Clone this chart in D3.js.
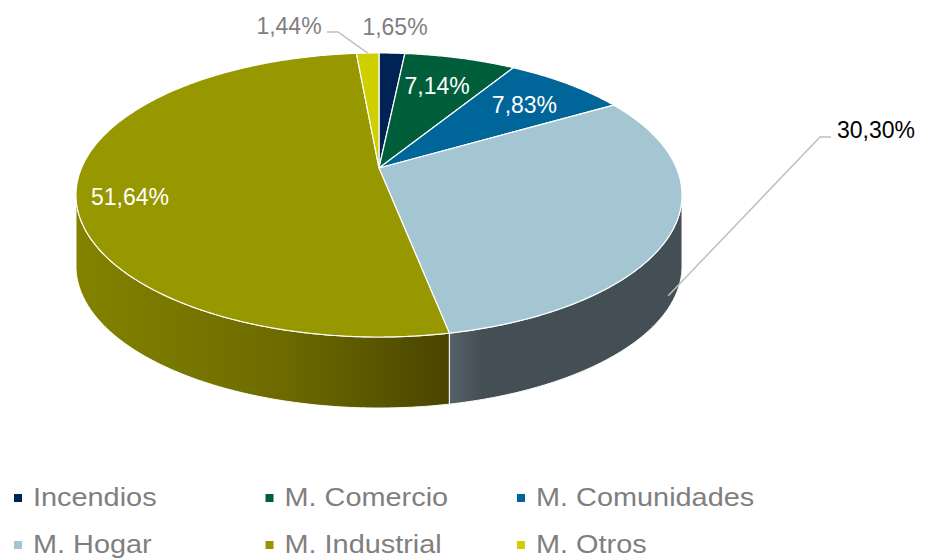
<!DOCTYPE html>
<html>

<head>
    <meta charset="utf-8">
    <title></title>
    <script src="https://d3js.org/d3.v7.min.js"></script>
    <style>
        html,
        body {
            margin: 0;
            padding: 0;
            background: white;
        }
    </style>
</head>

<body>

    <div id="chart"></div>

    <script>
        // Data
        const categories = ["Incendios", "M. Comercio", "M. Comunidades", "M. Hogar", "M. Industrial", "M. Otros"];
        const values = [1.65, 7.14, 7.83, 30.30, 51.64, 1.44];
        const valueLabels = ["1,65%", "7,14%", "7,83%", "30,30%", "51,64%", "1,44%"];
        const colors = ["#002255", "#005e3b", "#006699", "#a4c6d3", "#979700", "#d0d000"];

        const width = 926;
        const height = 559;

        // 3D pie geometry (perspective tilt)
        const cx = 379, cy = 168;     // projected pie centre
        const A = 297.5, B = 136.9;   // horizontal / vertical scale
        const k = 0.19;               // perspective strength
        const depth = 71;             // slab thickness

        // angle (clockwise from back) + radius fraction -> screen point
        const project = (theta, r = 1, dz = 0) => {
            const X = r * Math.sin(theta);
            const Z = r * Math.cos(theta);
            const w = 1 + k * Z;
            return [cx + A * X / w, cy - B * Z / w + dz];
        };

        const svg = d3.select("#chart")
            .append("svg")
            .attr("width", width)
            .attr("height", height);

        svg.append("rect")
            .attr("width", width)
            .attr("height", height)
            .attr("fill", "white");

        const defs = svg.append("defs");

        // side gradients
        const gInd = defs.append("linearGradient")
            .attr("id", "sideInd")
            .attr("gradientUnits", "userSpaceOnUse")
            .attr("x1", 76).attr("x2", 447).attr("y1", 0).attr("y2", 0);
        gInd.append("stop").attr("offset", "0%").attr("stop-color", "#838300");
        gInd.append("stop").attr("offset", "55%").attr("stop-color", "#6d6b00");
        gInd.append("stop").attr("offset", "100%").attr("stop-color", "#4a4500");

        const gHog = defs.append("linearGradient")
            .attr("id", "sideHog")
            .attr("gradientUnits", "userSpaceOnUse")
            .attr("x1", 447).attr("x2", 682).attr("y1", 0).attr("y2", 0);
        gHog.append("stop").attr("offset", "0%").attr("stop-color", "#56636b");
        gHog.append("stop").attr("offset", "15%").attr("stop-color", "#444e55");
        gHog.append("stop").attr("offset", "100%").attr("stop-color", "#444e55");

        const sideFill = { 3: "url(#sideHog)", 4: "url(#sideInd)" };

        const pie = d3.pie().sort(null).startAngle(0).endAngle(2 * Math.PI);
        const arcs = pie(values);

        const line = d3.line();
        const step = Math.PI / 360;

        const arcPoints = (a0, a1, dz = 0) => {
            const pts = [];
            const n = Math.max(2, Math.ceil((a1 - a0) / step));
            for (let i = 0; i <= n; i++) {
                pts.push(project(a0 + (a1 - a0) * i / n, 1, dz));
            }
            return pts;
        };

        // front visible wall: between silhouette angles
        const th1 = Math.acos(-k);
        const th2 = 2 * Math.PI - th1;

        const sides = svg.append("g");
        arcs.forEach((d, i) => {
            const s = Math.max(d.startAngle, th1);
            const e = Math.min(d.endAngle, th2);
            if (e <= s) return;
            const top = arcPoints(s, e);
            const bottom = arcPoints(s, e, depth).reverse();
            sides.append("path")
                .attr("d", line(top.concat(bottom)) + "Z")
                .attr("fill", sideFill[i] || d3.color(colors[i]).darker(1.2))
                .attr("stroke", "white")
                .attr("stroke-width", 1)
                .attr("stroke-linejoin", "round");
        });

        // top faces
        const tops = svg.append("g");
        arcs.forEach((d, i) => {
            const pts = [[cx, cy]].concat(arcPoints(d.startAngle, d.endAngle));
            tops.append("path")
                .attr("d", line(pts) + "Z")
                .attr("fill", colors[i])
                .attr("stroke", "white")
                .attr("stroke-width", 1.2)
                .attr("stroke-linejoin", "round");
        });

        const font = "'Liberation Sans', Arial, sans-serif";

        // inside labels
        const inside = { 1: { r: 0.68, dx: 0, dy: -3 }, 2: { r: 0.7, dx: 9, dy: -2 }, 4: { r: 0.83, dx: 1, dy: 13 } };
        Object.keys(inside).forEach((key) => {
            const i = +key;
            const d = arcs[i];
            const mid = (d.startAngle + d.endAngle) / 2;
            const [x, y] = project(mid, inside[i].r);
            svg.append("text")
                .attr("x", x + inside[i].dx)
                .attr("y", y + inside[i].dy)
                .attr("text-anchor", "middle")
                .attr("dominant-baseline", "central")
                .attr("font-family", font)
                .attr("font-size", "23px")
                .attr("fill", "white")
                .text(valueLabels[i]);
        });

        // outside labels
        const midOf = (i) => (arcs[i].startAngle + arcs[i].endAngle) / 2;

        // Incendios
        svg.append("text")
            .attr("x", 395).attr("y", 27)
            .attr("text-anchor", "middle")
            .attr("dominant-baseline", "central")
            .attr("font-family", font)
            .attr("font-size", "23px")
            .attr("fill", "#7f7f7f")
            .text(valueLabels[0]);

        // Otros with leader
        const pOtros = project(midOf(5), 1);
        svg.append("polyline")
            .attr("points", [[327, 32], [338, 32], pOtros].map(p => p.join(",")).join(" "))
            .attr("fill", "none")
            .attr("stroke", "#bfbfbf")
            .attr("stroke-width", 1.5);
        svg.append("text")
            .attr("x", 289).attr("y", 26)
            .attr("text-anchor", "middle")
            .attr("dominant-baseline", "central")
            .attr("font-family", font)
            .attr("font-size", "23px")
            .attr("fill", "#7f7f7f")
            .text(valueLabels[5]);

        // Hogar with leader
        const pHog = project(midOf(3), 0.985, depth * 0.95);
        svg.append("polyline")
            .attr("points", [pHog, [820, 137], [831, 137]].map(p => p.join(",")).join(" "))
            .attr("fill", "none")
            .attr("stroke", "#bfbfbf")
            .attr("stroke-width", 1.5);
        svg.append("text")
            .attr("x", 837).attr("y", 130)
            .attr("dominant-baseline", "central")
            .attr("font-family", font)
            .attr("font-size", "23px")
            .attr("fill", "#000000")
            .text(valueLabels[3]);

        // Legend
        const colW = 251.5, rowH = 47;
        const legend = svg.append("g")
            .attr("transform", "translate(14,498)");

        categories.forEach((c, i) => {
            const row = Math.floor(i / 3);
            const col = i % 3;
            const g = legend.append("g")
                .attr("transform", `translate(${col * colW},${row * rowH})`);
            g.append("rect")
                .attr("x", 0).attr("y", -4)
                .attr("width", 8).attr("height", 8)
                .attr("fill", colors[i]);
            g.append("text")
                .attr("x", 19)
                .attr("y", 8)
                .attr("font-family", font)
                .attr("font-size", "26.5px")
                .attr("fill", "#7f7f7f")
                .attr("transform", "translate(19,0) scale(1.09,1) translate(-19,0)")
                .text(c);
        });
    </script>
</body>

</html>
